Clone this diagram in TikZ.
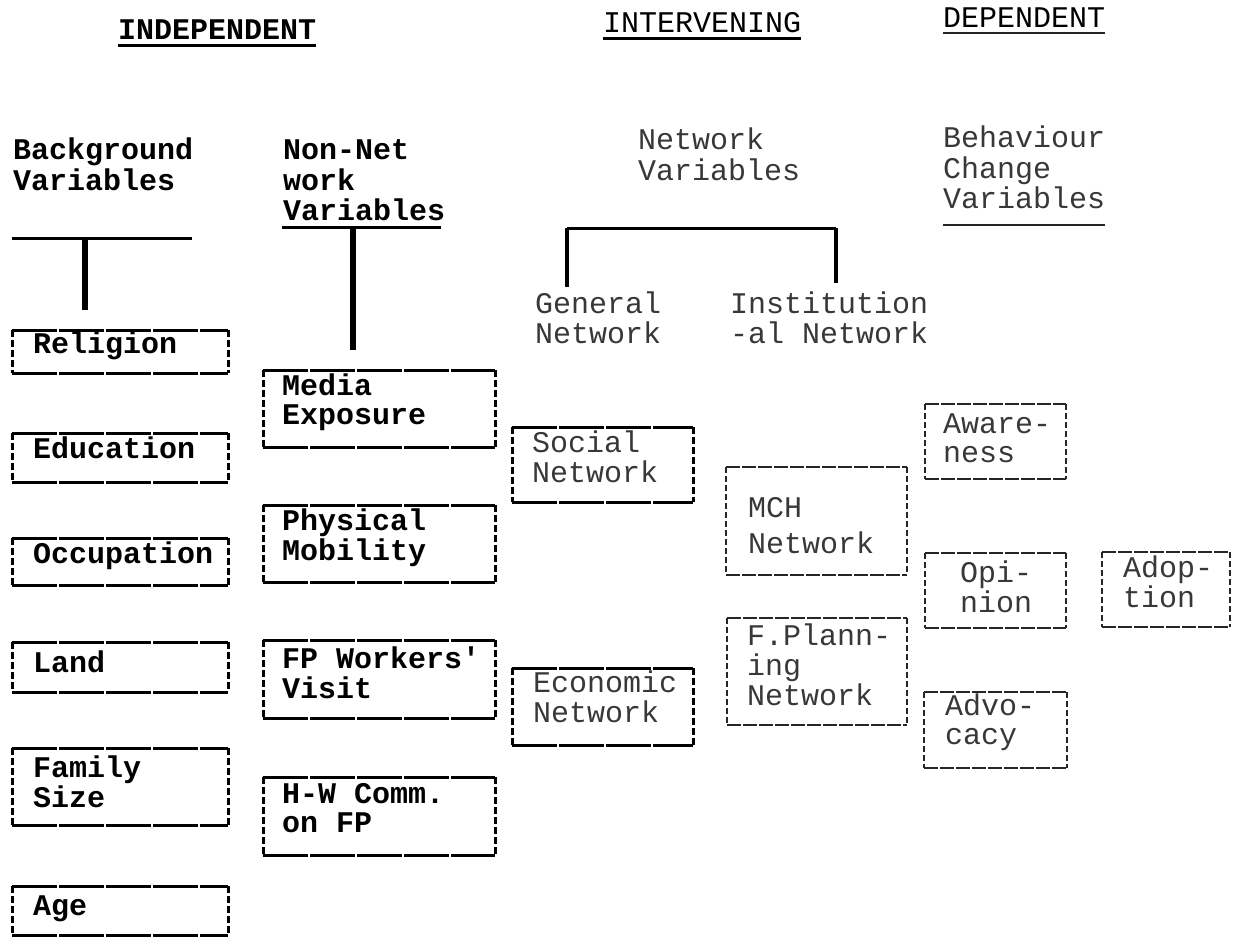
\documentclass[tikz,border=0pt]{standalone}
\usepackage{fontspec}
\setmonofont{Liberation Mono}
\newcommand\twl[1]{\begin{tabular}[t]{@{}l@{}}#1\end{tabular}}
\begin{document}
\begin{tikzpicture}[x=1pt,y=-1pt,
  every node/.style={inner sep=0pt, outer sep=0pt},
  txt/.style={anchor=base west, text=black, font=\ttfamily\fontsize{30}{29}\selectfont},
  btxt/.style={txt, font=\ttfamily\bfseries\fontsize{30}{29}\selectfont},
  ltxt/.style={txt, text=black!78},
  frame/.style={anchor=north west, draw=none},
  hedge/.style={line width=3pt, dash pattern=on 45pt off 2pt, black},
  vedge/.style={line width=3pt, dash pattern=on 7pt off 3pt, black},
  lhedge/.style={line width=2.2pt, dash pattern=on 14pt off 2pt, black!85},
  lvedge/.style={line width=2.4pt, dash pattern=on 6pt off 3pt, black!85},
  rule/.style={line width=3pt, black},
  thinrule/.style={line width=2.2pt, black!85},
  bar/.style={line width=6pt, black},
  lbar/.style={line width=4pt, black}]

\useasboundingbox[fill=white] (0,0) rectangle (1238,944);

% ---------- headers ----------
\node[btxt] (indep) at (118,40) {INDEPENDENT};
\node[txt] (interv) at (603,33) {INTERVENING};
\node[txt] (dep) at (943,28) {DEPENDENT};
\draw[rule] ([yshift=-6pt]indep.base west) -- ([yshift=-6pt]indep.base east);
\draw[rule] ([yshift=-6pt]interv.base west) -- ([yshift=-6pt]interv.base east);
\draw[thinrule] ([yshift=-5pt]dep.base west) -- ([yshift=-5pt]dep.base east);

% ---------- column headings ----------
\node[btxt] (bg) at (13,160) {\twl{Background\\Variables}};
\node[btxt] (nonnet) at (283,160) {\twl{Non-Net\\work\\Variables}};
\node[ltxt] (netvar) at (638,150) {\twl{Network\\Variables}};
\node[ltxt] (behav) at (943,148) {\twl{Behaviour\\Change\\Variables}};
\node[ltxt] (gen) at (535,313) {\twl{General\\Network}};
\node[ltxt] (inst) at (730,313) {\twl{Institution\\-al Network}};

% ---------- T connectors ----------
\coordinate (bgL) at (12,238);  \coordinate (bgR) at (192,238);
\coordinate (bgT) at (85,238);  \coordinate (bgB) at (85,310);
\draw[rule] (bgL) -- (bgR);
\draw[bar] (bgT) -- (bgB);

\coordinate (nnL) at (282,227); \coordinate (nnR) at (441,227);
\coordinate (nnT) at (353,227); \coordinate (nnB) at (353,350);
\draw[rule] (nnL) -- (nnR);
\draw[bar] (nnT) -- (nnB);

\coordinate (nwL) at (567,228); \coordinate (nwR) at (836,228);
\coordinate (nwLB) at (567,287); \coordinate (nwRB) at (836,283);
\draw[rule] (nwL) -- (nwR);
\draw[lbar] (nwL) -- (nwLB);
\draw[lbar] (nwR) -- (nwRB);

\coordinate (bcL) at (943,225); \coordinate (bcR) at (1105,225);
\draw[thinrule] (bcL) -- (bcR);

% ---------- boxes ----------
\node[frame, minimum width=216pt, minimum height=43pt] (rel) at (12,330) {};
\node[frame, minimum width=216pt, minimum height=49pt] (edu) at (12,433) {};
\node[frame, minimum width=216pt, minimum height=47pt] (occ) at (12,538) {};
\node[frame, minimum width=216pt, minimum height=50pt] (land) at (12,642) {};
\node[frame, minimum width=216pt, minimum height=77pt] (fam) at (12,748) {};
\node[frame, minimum width=216pt, minimum height=49pt] (age) at (12,886) {};
\node[frame, minimum width=232pt, minimum height=77pt] (media) at (263,370) {};
\node[frame, minimum width=232pt, minimum height=77pt] (phys) at (263,505) {};
\node[frame, minimum width=232pt, minimum height=78pt] (fpw) at (263,640) {};
\node[frame, minimum width=232pt, minimum height=78pt] (hw) at (263,777) {};
\node[frame, minimum width=181pt, minimum height=75pt] (soc) at (512,427) {};
\node[frame, minimum width=181pt, minimum height=77pt] (econ) at (512,668) {};
\node[frame, minimum width=181pt, minimum height=108pt] (mch) at (726,467) {};
\node[frame, minimum width=180pt, minimum height=107pt] (fpl) at (727,618) {};
\node[frame, minimum width=141pt, minimum height=75pt] (awa) at (925,404) {};
\node[frame, minimum width=141pt, minimum height=75pt] (opi) at (925,553) {};
\node[frame, minimum width=128pt, minimum height=75pt] (adop) at (1102,552) {};
\node[frame, minimum width=143pt, minimum height=76pt] (advo) at (924,692) {};

\foreach \b in {rel,edu,occ,land,fam,age,media,phys,fpw,hw,soc,econ}{
  \draw[hedge] (\b.north west) -- (\b.north east);
  \draw[hedge] (\b.south west) -- (\b.south east);
  \draw[vedge] (\b.north west) -- (\b.south west);
  \draw[vedge] (\b.north east) -- (\b.south east);
}
\foreach \b in {mch,fpl,awa,opi,adop,advo}{
  \draw[lhedge] (\b.north west) -- (\b.north east);
  \draw[lhedge] (\b.south west) -- (\b.south east);
  \draw[lvedge] (\b.north west) -- (\b.south west);
  \draw[lvedge] (\b.north east) -- (\b.south east);
}

% ---------- box texts ----------
\node[btxt] (relt) at (33,353) {Religion};
\node[btxt] (edut) at (33,458) {Education};
\node[btxt] (occt) at (33,563) {Occupation};
\node[btxt] (landt) at (33,672) {Land};
\node[btxt] (famt) at (33,777) {\twl{Family\\Size}};
\node[btxt] (aget) at (33,915) {Age};
\node[btxt] (mediat) at (282,395) {\twl{Media\\Exposure}};
\node[btxt] (physt) at (282,530) {\twl{Physical\\Mobility}};
\node[btxt] (fpwt) at (282,668) {\twl{FP Workers'\\Visit}};
\node[btxt] (hwt) at (282,803) {\twl{H-W Comm.\\on FP}};
\node[ltxt] (soct) at (532,452) {\twl{Social\\Network}};
\node[ltxt] (econt) at (533,692) {\twl{Economic\\Network}};
\node[ltxt] (mcht) at (748,517) {\twl{MCH\\[6pt]Network}};
\node[ltxt] (fplt) at (747,645) {\twl{F.Plann-\\ing\\Network}};
\node[ltxt] (awat) at (943,433) {\twl{Aware-\\ness}};
\node[ltxt] (opit) at (960,582) {\twl{Opi-\\nion}};
\node[ltxt] (adopt) at (1123,577) {\twl{Adop-\\tion}};
\node[ltxt] (advot) at (945,715) {\twl{Advo-\\cacy}};
\end{tikzpicture}
\end{document}
